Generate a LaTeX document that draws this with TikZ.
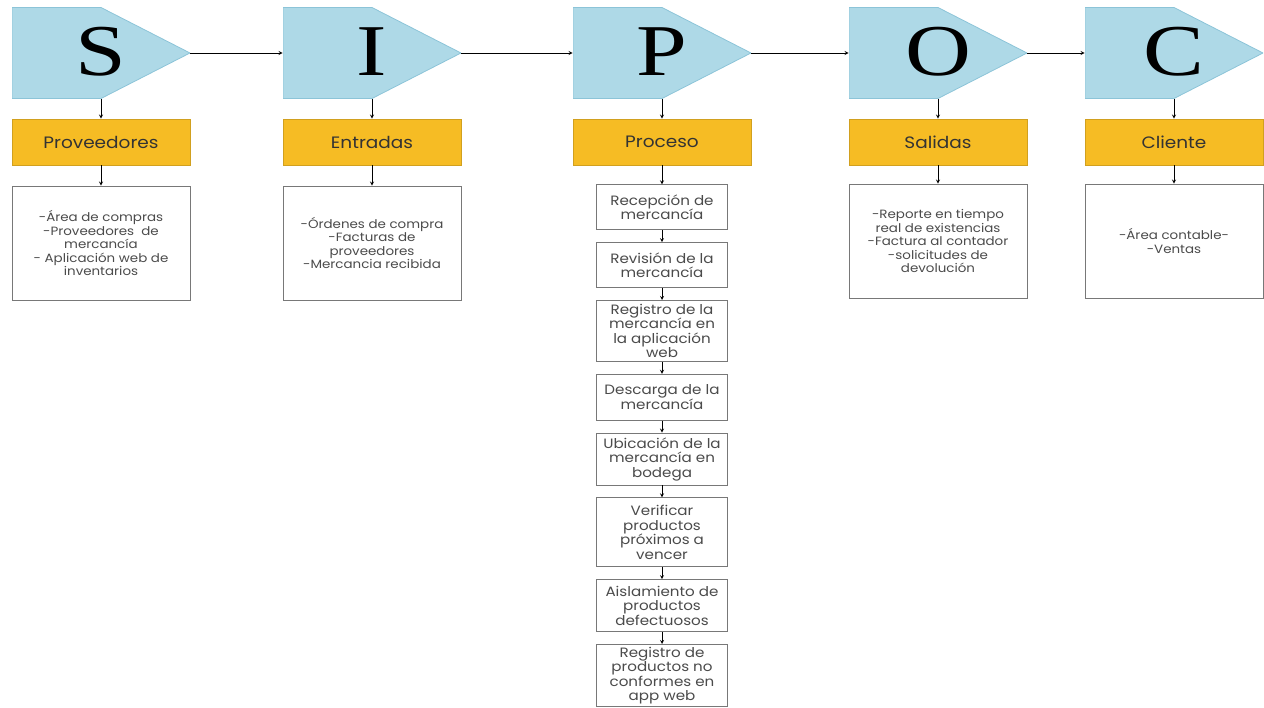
\documentclass[tikz,border=0pt]{standalone}
\usepackage{fontspec}
\setmainfont[FakeStretch=1.12]{Poppins}
\newfontfamily\letterfont[FakeStretch=1.25]{Liberation Serif}
\usetikzlibrary{positioning}
\definecolor{sipocblue}{RGB}{174,217,231}
\definecolor{sipocedge}{RGB}{140,196,216}
\definecolor{sipocyellow}{RGB}{246,188,36}
\definecolor{listgray}{RGB}{120,120,120}
\definecolor{listtext}{RGB}{75,75,75}
\tikzset{
  letterbox/.style={minimum width=178pt,minimum height=91pt,inner sep=0pt,
    text height=46pt,text depth=0pt,
    font=\letterfont\fontsize{73}{73}\selectfont,
    path picture={\filldraw[sipocblue,draw=sipocedge]
      (path picture bounding box.north west) -- (path picture bounding box.north)
      -- (path picture bounding box.east) -- (path picture bounding box.south)
      -- (path picture bounding box.south west) -- cycle;}},
  headbox/.style={fill=sipocyellow,draw=sipocyellow!85!black,minimum width=178pt,
    minimum height=46pt,font=\fontsize{16.5}{19}\selectfont,text=black!80},
  listbox/.style={draw=listgray,fill=white,minimum width=178pt,minimum height=114pt,
    align=center,font=\fontsize{12}{13.5}\selectfont,text=listtext},
  stepbox/.style={draw=listgray,fill=white,minimum width=131pt,inner sep=1pt,
    align=center,font=\fontsize{13.5}{14.5}\selectfont,text=listtext},
}
\begin{document}
\begin{tikzpicture}[x=1pt,y=-1pt,line width=0.8pt,node distance=12pt]
  \useasboundingbox (0,0) rectangle (1264,708);
  \node[letterbox] (S) at (101,53) {S};
  \node[letterbox] (I) at (372,53) {I};
  \node[letterbox] (P) at (662,53) {P};
  \node[letterbox] (O) at (938,53) {O};
  \node[letterbox] (C) at (1174,53) {C};

  \node[headbox] (prov) at (101,142) {Proveedores};
  \node[headbox] (entr) at (372,142) {Entradas};
  \node[headbox] (proc) at (662,142) {Proceso};
  \node[headbox] (sal) at (938,142) {Salidas};
  \node[headbox] (cli) at (1174,142) {Cliente};

  \node[listbox] (provlist) at (101,243) {-Área de compras\\-Proveedores~~de\\mercancía\\- Aplicación web de\\inventarios};
  \node[listbox] (entrlist) at (372,243) {-Órdenes de compra\\-Facturas de\\proveedores\\-Mercancia recibida};
  \node[listbox] (sallist) at (938,241) {-Reporte en tiempo\\real de existencias\\-Factura al contador\\-solicitudes de\\devolución};
  \node[listbox] (clilist) at (1174,241) {-Área contable-\\-Ventas};

  \node[stepbox,minimum height=45pt,below=19pt of proc] (rec) {Recepción de\\mercancía};
  \node[stepbox,minimum height=45pt,below=of rec] (rev) {Revisión de la\\mercancía};
  \node[stepbox,minimum height=61pt,below=of rev] (reg) {Registro de la\\mercancía en\\la aplicación\\web};
  \node[stepbox,minimum height=46pt,below=of reg] (desc) {Descarga de la\\mercancía};
  \node[stepbox,minimum height=52pt,below=of desc] (ubic) {Ubicación de la\\mercancía en\\bodega};
  \node[stepbox,minimum height=69pt,below=of ubic] (verif) {Verificar\\productos\\próximos a\\vencer};
  \node[stepbox,minimum height=52pt,below=of verif] (aisl) {Aislamiento de\\productos\\defectuosos};
  \node[stepbox,minimum height=62pt,below=of aisl] (noconf) {Registro de\\productos no\\conformes en\\app web};

  \path[-stealth]
    (S) edge (I)
    (I) edge (P)
    (P) edge (O)
    (O) edge (C)
    (S) edge (prov)
    (I) edge (entr)
    (P) edge (proc)
    (O) edge (sal)
    (C) edge (cli)
    (prov) edge (provlist)
    (entr) edge (entrlist)
    (sal) edge (sallist)
    (cli) edge (clilist)
    (proc) edge (rec)
    (rec) edge (rev)
    (rev) edge (reg)
    (reg) edge (desc)
    (desc) edge (ubic)
    (ubic) edge (verif)
    (verif) edge (aisl)
    (aisl) edge (noconf);
\end{tikzpicture}
\end{document}
